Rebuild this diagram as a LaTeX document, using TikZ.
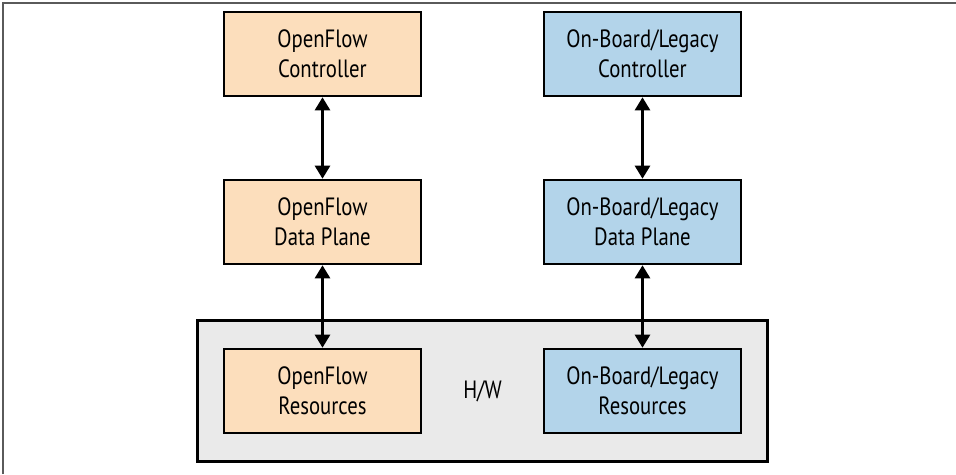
\documentclass[tikz,border=0pt]{standalone}
\usepackage{fontspec}
\setmainfont{PT Sans}[FakeStretch=0.83]
\usetikzlibrary{arrows.meta}
\definecolor{ofill}{RGB}{252,222,188}
\definecolor{bfill}{RGB}{179,212,234}
\definecolor{hwfill}{RGB}{234,234,234}
\definecolor{framec}{RGB}{90,90,90}
\tikzset{
  box/.style={draw=black, line width=2.6pt, minimum width=197pt, minimum height=84pt,
    align=center, inner sep=0pt, font=\fontsize{25}{30}\selectfont},
  ofbox/.style={box, fill=ofill},
  lgbox/.style={box, fill=bfill},
  hwbox/.style={draw=black, line width=2.6pt, fill=hwfill, minimum width=570pt, minimum height=141.5pt, inner sep=0pt},
  link/.style={line width=2.6pt, {Triangle[width=15pt,length=13pt]}-{Triangle[width=15pt,length=13pt]}},
}
\begin{document}
\begin{tikzpicture}[x=1pt,y=-1pt]
\useasboundingbox (0,0) rectangle (956,474);
\draw[framec, line width=2pt] (3,474) -- (3,3) -- (956,3);
\node[hwbox] (hw) at (482.5,391) {};
\node[font=\fontsize{25}{30}\selectfont] (hwl) at (482.5,391) {H/W};
\node[ofbox] (ofc) at (322.5,54) {OpenFlow\\Controller};
\node[ofbox] (ofd) at (322.5,222) {OpenFlow\\Data Plane};
\node[ofbox] (ofr) at (322.5,391) {OpenFlow\\Resources};
\node[lgbox] (lgc) at (642.5,54) {On-Board/Legacy\\Controller};
\node[lgbox] (lgd) at (642.5,222) {On-Board/Legacy\\Data Plane};
\node[lgbox] (lgr) at (642.5,391) {On-Board/Legacy\\Resources};
\draw[link] (ofc) -- (ofd);
\draw[link] (ofd) -- (ofr);
\draw[link] (lgc) -- (lgd);
\draw[link] (lgd) -- (lgr);
\end{tikzpicture}
\end{document}
